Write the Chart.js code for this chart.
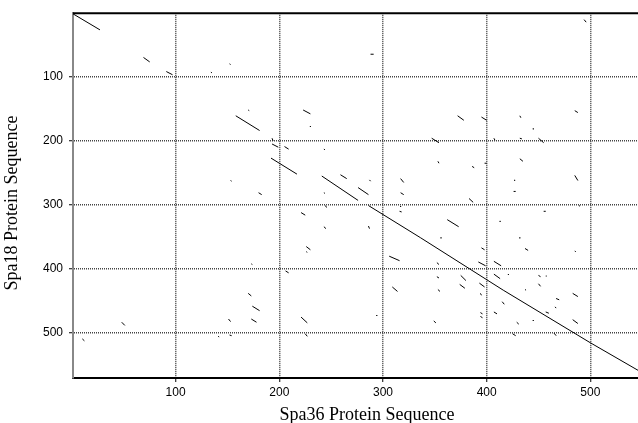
<!DOCTYPE html>
<html>
<head>
<meta charset="utf-8">
<title>Spa36 vs Spa18 dot plot</title>
<script src="https://cdn.jsdelivr.net/npm/chart.js@4.4.1/dist/chart.umd.min.js"></script>
<style>
    html, body { margin: 0; padding: 0; background: #fff; }
    #wrap { width: 638px; height: 423px; position: relative; }
</style>
</head>
<body>
<div id="wrap"><canvas id="dotPlot"></canvas></div>
<script>
// match segments: position in Spa36 (x) and Spa18 (y), start and end
const spa36Start = [1, 69, 91, 134, 152, 288, 158, 170, 223, 230, 193, 193, 205, 243, 192, 153, 180, 241, 259, 276,
    287, 317, 317, 243, 244, 316, 317, 221, 243, 286, 226, 226, 173, 306, 206, 309, 170, 174, 151, 173,
    221, 225, 141, 152, 294, 48, 10, 353, 386, 398, 432, 485, 427, 426, 383, 489, 455, 413, 362, 356,
    432, 437, 485, 395, 392, 407, 352, 407, 421, 352, 375, 450, 457, 374, 393, 450, 353, 437, 394, 467,
    483, 415, 466, 394, 407, 457, 394, 349, 429, 445, 483, 425, 465, 494, 372, 395, 432, 485, 445, 347,
    407, 432, 450];
const spa18Start = [2, 70, 92, 93, 80, 65, 161, 152, 152, 177, 196, 205, 209, 213, 227, 262, 281, 255, 253, 273,
    261, 259, 281, 281, 301, 310, 302, 312, 334, 333, 365, 373, 392, 380, 403, 428, 438, 458, 478, 478,
    475, 501, 505, 503, 472, 483, 509, 232, 240, 235, 228, 254, 261, 279, 290, 301, 310, 325, 323, 351,
    351, 368, 372, 367, 389, 388, 390, 408, 408, 412, 410, 410, 411, 424, 422, 423, 432, 432, 438, 446,
    438, 451, 459, 468, 467, 467, 474, 481, 483, 480, 479, 501, 500, 11, 161, 163, 161, 153, 181, 196,
    196, 196, 196];
const spa36End = [27, 75, 97, 135, 153, 291, 181, 171, 230, 230, 194, 199, 209, 244, 217, 154, 183, 276, 265, 286,
    288, 320, 320, 244, 246, 318, 317, 225, 245, 287, 230, 227, 174, 316, 209, 314, 173, 181, 153, 178,
    227, 227, 142, 154, 294, 51, 12, 354, 388, 400, 435, 488, 427, 428, 387, 490, 457, 413, 373, 356,
    432, 440, 486, 398, 399, 414, 354, 413, 421, 354, 380, 452, 458, 379, 398, 452, 355, 438, 395, 470,
    488, 417, 467, 396, 410, 460, 396, 351, 431, 445, 488, 428, 467, 496, 378, 400, 433, 488, 445, 354,
    408, 434, 455];
const spa18End = [27, 77, 97, 94, 81, 65, 184, 153, 158, 178, 200, 210, 213, 214, 252, 263, 284, 293, 259, 284,
    263, 265, 284, 282, 304, 311, 303, 316, 337, 337, 370, 374, 393, 387, 406, 435, 442, 465, 482, 483,
    484, 505, 506, 504, 473, 488, 512, 235, 242, 235, 232, 262, 262, 279, 296, 302, 310, 326, 334, 352,
    352, 371, 373, 370, 395, 395, 393, 415, 409, 414, 418, 412, 411, 430, 428, 427, 435, 433, 441, 448,
    443, 455, 461, 470, 470, 469, 476, 484, 486, 481, 485, 504, 504, 15, 168, 168, 164, 156, 182, 203,
    199, 197, 203];

// the long diagonal alignment
const mainSpa36 = [286, 336, 416, 500, 546];
const mainSpa18 = [301, 351, 433, 515, 558];

const xTicks = [100, 200, 300, 400, 500];
const yTicks = [100, 200, 300, 400, 500];

const segmentPoints = [];
spa36Start.forEach((x0, i) => {
    segmentPoints.push({ x: x0, y: spa18Start[i] });
    segmentPoints.push({ x: spa36End[i], y: spa18End[i] });
    segmentPoints.push({ x: null, y: null });
});
const mainPoints = mainSpa36.map((x, i) => ({ x: x, y: mainSpa18[i] }));

const tickFont = { family: '"Liberation Sans", Arial, sans-serif', size: 12 };
const gridStyle = { color: '#444', lineWidth: 1.5, tickColor: '#000', tickLength: 4, tickWidth: 1 };

const framePlugin = {
    id: 'frame',
    afterDraw(chart) {
        const { ctx, chartArea } = chart;
        ctx.save();
        // top border
        ctx.strokeStyle = '#000';
        ctx.lineWidth = 2;
        ctx.beginPath();
        ctx.moveTo(chartArea.left, chartArea.top);
        ctx.lineTo(chartArea.right, chartArea.top);
        ctx.stroke();
        // axis titles
        ctx.fillStyle = '#000';
        ctx.font = '18px "Liberation Serif", "Times New Roman", serif';
        ctx.textAlign = 'center';
        ctx.textBaseline = 'alphabetic';
        ctx.fillText('Spa36 Protein Sequence', 367, 420);
        ctx.translate(17, 203);
        ctx.rotate(-Math.PI / 2);
        ctx.fillText('Spa18 Protein Sequence', 0, 0);
        ctx.restore();
    }
};

new Chart(document.getElementById('dotPlot'), {
    type: 'scatter',
    data: {
        datasets: [{
            data: segmentPoints,
            showLine: true,
            spanGaps: false,
            borderColor: '#000',
            borderWidth: 1,
            pointRadius: 0
        }, {
            data: mainPoints,
            showLine: true,
            borderColor: '#000',
            borderWidth: 1,
            pointRadius: 0
        }]
    },
    options: {
        responsive: true,
        maintainAspectRatio: false,
        animation: false,
        layout: { padding: { top: 12, right: 0, left: 0, bottom: 0 } },
        plugins: {
            legend: { display: false },
            tooltip: { enabled: false }
        },
        scales: {
            x: {
                type: 'linear',
                position: 'bottom',
                min: 1,
                max: 546,
                afterBuildTicks: scale => { scale.ticks = xTicks.map(v => ({ value: v })); },
                afterFit: scale => { scale.height = 45; },
                ticks: { color: '#000', font: tickFont, padding: 3, maxRotation: 0 },
                grid: gridStyle,
                border: { color: '#000', width: 2, dash: [1, 1] }
            },
            y: {
                type: 'linear',
                reverse: true,
                min: 1,
                max: 570,
                afterBuildTicks: scale => { scale.ticks = yTicks.map(v => ({ value: v })); },
                afterFit: scale => { scale.width = 73; },
                ticks: { color: '#000', font: tickFont, padding: 6 },
                grid: gridStyle,
                border: { color: '#888', width: 2, dash: [1, 1] }
            }
        }
    },
    plugins: [framePlugin]
});
</script>
</body>
</html>
